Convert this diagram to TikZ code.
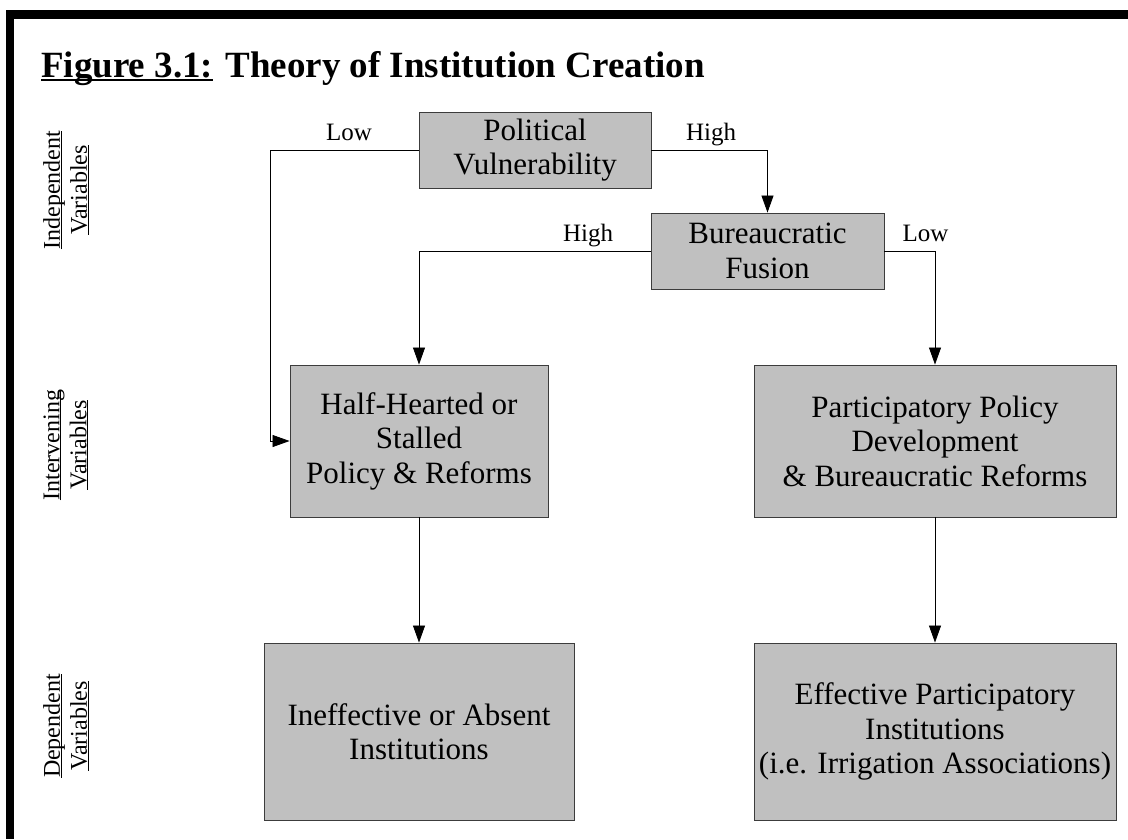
\documentclass[tikz,border=0pt]{standalone}
\usepackage{fontspec}
\setmainfont{Liberation Serif}
\usetikzlibrary{arrows.meta}

% underline drawn close under the baseline, through the descenders
\newcommand\ulbox[3]{\setbox0\hbox{#3}\rlap{\rule[-#1]{\wd0}{#2}}\box0\relax}

\definecolor{boxgray}{RGB}{192,192,192}
\definecolor{edgegray}{RGB}{60,60,60}

\tikzset{
  stage/.style={draw=edgegray, line width=0.9pt, fill=boxgray, inner sep=0pt,
    align=center, font=\fontsize{31}{34.5}\selectfont},
  link/.style={draw=black, line width=0.8pt,
    -{Triangle[width=12pt,length=17pt]}},
  branch/.style={font=\fontsize{25}{28}\selectfont, anchor=base},
  level/.style={rotate=90, align=center, inner sep=0pt,
    font=\fontsize{24}{27}\selectfont}
}

\begin{document}
\begin{tikzpicture}[x=1pt,y=-1pt]
  \useasboundingbox (0,0) rectangle (1128,839);
  \fill[white] (0,0) rectangle (1128,839);

  % frame
  \fill[black] (6,10) rectangle (1128,19);
  \fill[black] (6,10) rectangle (14,839);

  % title
  \node[anchor=base west, inner sep=0pt, font=\bfseries\fontsize{37}{41}\selectfont]
    (title) at (41,77) {\ulbox{3.5pt}{1.8pt}{Figure 3.1:}\hspace{3pt} Theory of Institution Creation};

  % level labels
  \node[level] (indep) at (66,190) {\ulbox{2pt}{1pt}{Independent}\\\ulbox{2pt}{1pt}{Variables}};
  \node[level] (interv) at (66,445) {\ulbox{2pt}{1pt}{Intervening}\\\ulbox{2pt}{1pt}{Variables}};
  \node[level] (dep) at (66,726) {\ulbox{2pt}{1pt}{Dependent}\\\ulbox{2pt}{1pt}{Variables}};

  % boxes
  \node[stage, minimum width=232pt, minimum height=76pt] (pv) at (535,150)
    {Political\\Vulnerability};
  \node[stage, minimum width=233pt, minimum height=76pt] (bf) at (767.5,251)
    {Bureaucratic\\Fusion};
  \node[stage, minimum width=258pt, minimum height=152pt] (hh) at (419,441)
    {Half-Hearted or\\Stalled\\Policy \& Reforms};
  \node[stage, minimum width=362pt, minimum height=152pt] (pp) at (935,441)
    {Participatory Policy\\Development\\\& Bureaucratic Reforms};
  \node[stage, minimum width=310pt, minimum height=177pt] (ie) at (419,731.5)
    {Ineffective or Absent\\Institutions};
  \node[stage, minimum width=362pt, minimum height=177pt] (ep) at (935,731.5)
    {Effective Participatory\\Institutions\\(i.e. Irrigation Associations)};

  % connectors
  \coordinate (lowbend) at (270,150);
  \draw[link] (pv.west) -- (lowbend) |- (hh.west);
  \draw[link] (pv.east) -| (bf.north);
  \draw[link] (bf.west) -| (hh.north);
  \draw[link] (bf.east) -| (pp.north);
  \draw[link] (hh.south) -- (ie.north);
  \draw[link] (pp.south) -- (ep.north);

  % branch labels
  \node[branch] (lowa) at (349,140) {Low};
  \node[branch] (higha) at (711,140) {High};
  \node[branch] (highb) at (588,241) {High};
  \node[branch] (lowb) at (925.5,241) {Low};
\end{tikzpicture}
\end{document}
